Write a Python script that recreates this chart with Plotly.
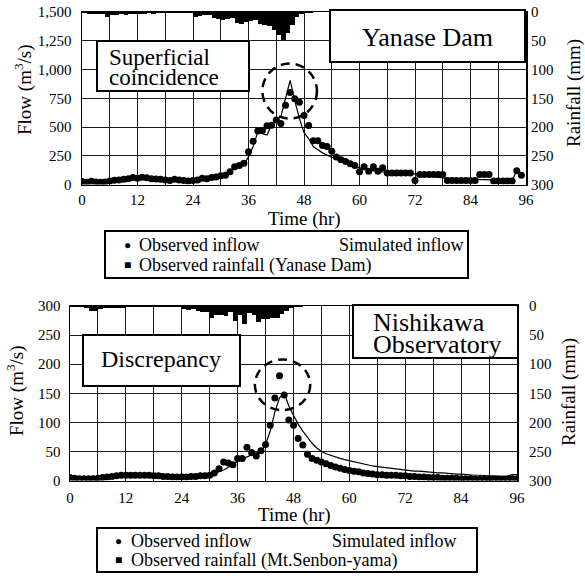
import plotly.graph_objects as go

# ---------------- data ----------------
hours_top = list(range(0, 96))
obs_top = [25, 20, 28, 22, 20, 22, 30, 38, 40, 45,
           50, 60, 55, 62, 58, 50, 48, 45, 40, 35,
           45, 40, 35, 30, 35, 40, 55, 50, 60, 65,
           75, 80, 110, 155, 165, 185, 285, 375, 465, 470,
           510, 515, 560, 530, 690, 800, 745, 715, 600, 514,
           380, 380, 340, 330, 290, 240, 215, 200, 180, 165,
           110, 155, 115, 155, 115, 145, 100, 100, 100, 100,
           100, 100, 35, 88, 88, 88, 88, 88, 88, 35,
           35, 35, 35, 35, 35, 35, 88, 88, 88, 30,
           30, 30, 30, 30, 120, 80]
sim_top = [25, 25, 25, 25, 25, 28, 32, 38, 42, 46,
           50, 54, 56, 57, 56, 53, 50, 47, 44, 42,
           40, 38, 37, 37, 38, 42, 48, 55, 62, 70,
           80, 95, 115, 135, 150, 175, 240, 330, 455, 440,
           430, 520, 560, 590, 760, 905, 730, 575, 450, 400,
           330, 300, 275, 255, 240, 220, 200, 185, 170, 155,
           140, 132, 125, 118, 113, 110, 108, 106, 104, 102,
           100, 99, 97, 90, 82, 75, 68, 62, 58, 55,
           52, 50, 48, 46, 45, 44, 43, 42, 41, 40,
           38, 36, 35, 35, 120, 80]
rain_top = [2, 3, 3, 3, 4, 8, 5, 5, 4, 5,
            4, 3, 4, 3, 2, 3, 2, 2, 1, 1,
            1, 1, 2, 1, 8, 7, 5, 5, 11, 13,
            14, 12, 10, 19, 20, 17, 15, 14, 20, 22,
            24, 31, 40, 48, 37, 23, 9, 4, 2, 1]

hours_bot = list(range(0, 97))
obs_bot = [5, 4, 3, 3, 3, 3, 4, 5, 6, 7,
           8, 9, 9, 9, 9, 9, 9, 9, 8, 8,
           7, 7, 6, 6, 6, 6, 7, 7, 8, 8,
           9, 13, 20, 32, 30, 27, 38, 38, 57, 48,
           42, 51, 62, 95, 142, 180, 147, 104, 95, 72,
           61, 45, 38, 35, 32, 29, 26, 23, 21, 19,
           17, 16, 15, 13, 12, 11, 10, 10, 9, 9,
           9, 8, 8, 7, 7, 6, 6, 5, 5, 5,
           4, 4, 4, 4, 3, 3, 3, 2, 2, 2,
           2, 2, 2, 2, 2, 3, 3]
sim_bot = [5, 4, 4, 4, 4, 4, 5, 5, 6, 7,
           8, 8, 9, 9, 9, 9, 9, 9, 8, 8,
           7, 7, 7, 6, 6, 6, 7, 7, 8, 8,
           10, 12, 15, 18, 22, 27, 33, 37, 41, 44,
           47, 49, 62, 85, 118, 142, 150, 128, 112, 97,
           85, 74, 64, 56, 50, 46, 43, 41, 38, 36,
           34, 32, 30, 28, 27, 25, 24, 23, 22, 20,
           19, 19, 18, 17, 16, 16, 15, 14, 14, 13,
           13, 12, 12, 11, 11, 10, 10, 9, 9, 8,
           8, 8, 7, 7, 8, 10, 10]
rain_bot = [2, 2, 2, 3, 8, 8, 5, 4, 4, 4,
            4, 4, 2, 1, 1, 1, 1, 1, 1, 1,
            1, 1, 1, 1, 5, 7, 6, 8, 10, 11,
            20, 16, 15, 18, 11, 25, 15, 31, 12, 16,
            28, 22, 22, 20, 21, 14, 8, 4, 2, 1]

grid_hours = list(range(0, 97, 6))
x_labels = [str(h) if h % 12 == 0 else "" for h in grid_hours]

# ---------------- helpers ----------------
W, H = 585, 576
FONT = "Liberation Serif, Times New Roman, serif"


def px(x):
    return x / W


def py(y):
    return 1 - y / H


fig = go.Figure()

# top chart
fig.add_trace(go.Bar(x=[h + 0.5 for h in range(len(rain_top))], y=rain_top, width=1,
                     marker=dict(color="black", line=dict(width=0)),
                     xaxis="x", yaxis="y2", showlegend=False))
fig.add_trace(go.Scatter(x=hours_top, y=sim_top, mode="lines",
                         line=dict(color="black", width=1.2),
                         xaxis="x", yaxis="y", showlegend=False))
fig.add_trace(go.Scatter(x=hours_top, y=obs_top, mode="markers",
                         marker=dict(color="black", size=7),
                         xaxis="x", yaxis="y", showlegend=False))

# bottom chart
fig.add_trace(go.Bar(x=[h + 0.5 for h in range(len(rain_bot))], y=rain_bot, width=1,
                     marker=dict(color="black", line=dict(width=0)),
                     xaxis="x2", yaxis="y4", showlegend=False))
fig.add_trace(go.Scatter(x=hours_bot, y=sim_bot, mode="lines",
                         line=dict(color="black", width=1.2),
                         xaxis="x2", yaxis="y3", showlegend=False))
fig.add_trace(go.Scatter(x=hours_bot, y=obs_bot, mode="markers",
                         marker=dict(color="black", size=7),
                         xaxis="x2", yaxis="y3", showlegend=False))

GRID = "#1a1a1a"
tickfont = dict(family=FONT, size=15, color="black")
CLEAR = "rgba(0,0,0,0)"


def xax(domain, anchor, gap):
    return dict(domain=domain, anchor=anchor, range=[0, 96],
                tickmode="array", tickvals=grid_hours, ticktext=x_labels,
                showgrid=True, gridcolor=GRID, gridwidth=1,
                showline=True, mirror=True, linecolor="black", linewidth=1.5,
                zeroline=False, ticks="outside", ticklen=gap, tickcolor=CLEAR,
                tickfont=tickfont, automargin=False, ticklabeloverflow="allow")


def yax(domain, anchor, rng, dtick, fmt, gap):
    return dict(domain=domain, anchor=anchor, range=rng, dtick=dtick, tickformat=fmt,
                showgrid=True, gridcolor=GRID, gridwidth=1,
                showline=True, mirror=True, linecolor="black", linewidth=1.5,
                zeroline=False, ticks="outside", ticklen=gap, tickcolor=CLEAR,
                tickfont=tickfont, automargin=False, ticklabeloverflow="allow")


def yrain(overlay, anchor, gap):
    return dict(overlaying=overlay, anchor=anchor, side="right", range=[300, 0], dtick=50,
                showgrid=False, showline=False, zeroline=False,
                ticks="outside", ticklen=gap, tickcolor=CLEAR,
                tickfont=tickfont, automargin=False, ticklabeloverflow="allow")


fig.update_layout(
    template="none",
    width=W, height=H, margin=dict(l=0, r=0, t=0, b=0, pad=0),
    paper_bgcolor="white", plot_bgcolor="white",
    bargap=0, showlegend=False, hovermode=False,
    font=dict(family=FONT, color="black"),
    xaxis=xax([px(82), px(526)], "y", 1),
    yaxis=yax([py(184.5), py(12)], "x", [0, 1500], 250, ",", 6),
    yaxis2=yrain("y", "x", 1),
    xaxis2=xax([px(70), px(517)], "y3", 3),
    yaxis3=yax([py(480.5), py(306)], "x2", [0, 300], 50, "", 5),
    yaxis4=yrain("y3", "x2", 8),
)

shapes = []
# dashed circles
shapes.append(dict(type="circle", xref="x", yref="y", x0=39, x1=50.8, y0=573, y1=1052,
                   line=dict(color="black", width=2.5, dash="9px,6px")))
shapes.append(dict(type="circle", xref="x2", yref="y3", x0=39.7, x1=51.6, y0=121, y1=208,
                   line=dict(color="black", width=2.5, dash="9px,6px")))


def box(x0, y0, x1, y1, fill="white"):
    return dict(type="rect", xref="paper", yref="paper", x0=px(x0), x1=px(x1),
                y0=py(y1), y1=py(y0), fillcolor=fill, layer="above",
                line=dict(color="black", width=2))


shapes += [box(97, 41, 249, 91), box(330, 10, 525, 62),
           box(83, 335, 240, 386), box(353, 305, 518, 358),
           box(105, 231, 468, 278), box(97, 528, 477, 572)]
fig.update_layout(shapes=shapes)

ann = []


def text(t, x, y, size, xanchor="center", angle=0):
    ann.append(dict(text=t, x=px(x), y=py(y), xref="paper", yref="paper",
                    xanchor=xanchor, yanchor="middle", showarrow=False, textangle=angle,
                    font=dict(family=FONT, size=size, color="black")))


# boxes' text
text("Superficial", 107, 58, 23, "left")
text("coincidence", 107, 77, 23, "left")
text("Yanase Dam", 427, 38, 26)
text("Discrepancy", 161, 359, 24)
text("Nishikawa", 371, 322, 26, "left")
text("Observatory", 371, 344, 26, "left")

# axis titles
text("Flow (m<sup>3</sup>/s)", 23, 90, 19, angle=-90)
text("Rainfall (mm)", 574, 93, 19, angle=-90)
text("Time (hr)", 304, 219, 19)
text("Flow (m<sup>3</sup>/s)", 15, 391, 19, angle=-90)
text("Rainfall (mm)", 569, 392, 19, angle=-90)
text("Time (hr)", 294, 515, 19)

# legends
text("●", 127, 245, 12)
text("Observed inflow", 137, 245, 18, "left")
text("Simulated inflow", 337, 245, 18, "left")
text("■", 127, 265, 12)
text("Observed rainfall (Yanase Dam)", 137, 265, 18, "left")

text("●", 118, 541, 12)
text("Observed inflow", 129, 541, 18, "left")
text("Simulated inflow", 330, 541, 18, "left")
text("■", 118, 560, 12)
text("Observed rainfall (Mt.Senbon-yama)", 129, 560, 18, "left")

fig.update_layout(annotations=ann)

# remove the browser's default 8 px body margin so the figure sits at (0, 0)
fig.write_html("out.html",
               config={"displayModeBar": False, "staticPlot": True},
               post_script="document.body.style.margin='0px';document.body.style.overflow='hidden';")
